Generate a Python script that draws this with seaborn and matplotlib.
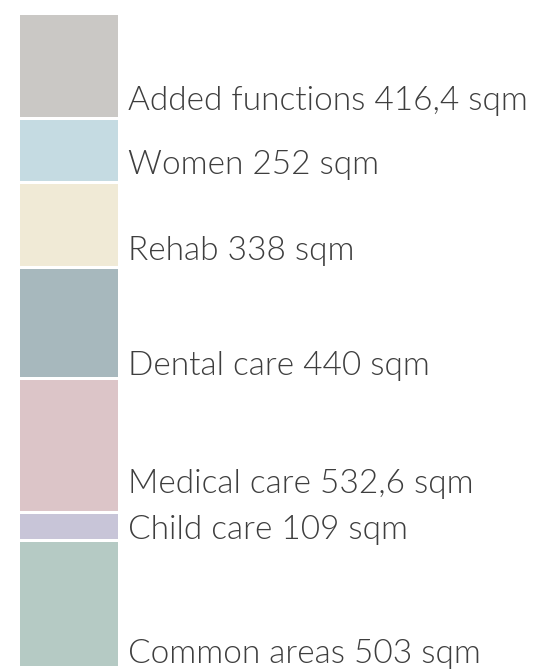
import matplotlib
matplotlib.use("Agg")
import matplotlib.pyplot as plt
import seaborn as sns
import pandas as pd
import numpy as np

# Data (top to bottom as shown)
categories = ["Added functions", "Women", "Rehab", "Dental care",
              "Medical care", "Child care", "Common areas"]
areas = [416.4, 252, 338, 440, 532.6, 109, 503]
value_labels = ["416,4", "252", "338", "440", "532,6", "109", "503"]
colors = ["#CAC8C5", "#C5DBE2", "#F0EAD6", "#A7B8BD",
          "#DCC5C8", "#C8C5D8", "#B5CAC4"]
# label vertical offset above segment bottom (px)
label_offsets_px = [7, 6, 6, 2, 18, -1, 2]

sns.set_theme(style="white")
plt.rcParams["font.family"] = ["Lato", "DejaVu Sans"]

W, H = 537, 672
fig = plt.figure(figsize=(W / 100, H / 100), dpi=100)
fig.patch.set_facecolor("white")

top_px, bot_px = 13.5, 666.5
ax = fig.add_axes([0, (H - bot_px) / H, 1, (bot_px - top_px) / H])

total = sum(areas)
# stack from the bottom: reverse order
df = pd.DataFrame({"cat": categories, "area": areas, "lab": value_labels,
                   "color": colors, "off": label_offsets_px})
df_rev = df.iloc[::-1].reset_index(drop=True)
df_rev["bottom"] = df_rev["area"].cumsum() - df_rev["area"]

lw_pt = 3 * 72 / 100
for _, r in df_rev.iterrows():
    sns.barplot(x=[0], y=[r["area"]], bottom=r["bottom"], color=r["color"],
                width=0.8, edgecolor="white", linewidth=lw_pt,
                saturation=1, ax=ax, native_scale=True)

# x scaling: bar -0.4..0.4 -> 17.5..118.5 px
ppu = 101 / 0.8
ax.set_xlim(-0.4 - 17.5 / ppu, 0.4 + (W - 118.5) / ppu)
ax.set_ylim(0, total)
ax.axis("off")

for _, r in df_rev.iterrows():
    ax.annotate(f"{r['cat']} {r['lab']} sqm", xy=(0.4, r["bottom"]),
                xytext=(9.5 * 0.72, (1.5 + r["off"]) * 0.72),
                textcoords="offset points", ha="left", va="baseline",
                fontsize=24, fontweight=300, color="#3E3E3E")

fig.savefig("out.png", dpi=100, facecolor="white")
